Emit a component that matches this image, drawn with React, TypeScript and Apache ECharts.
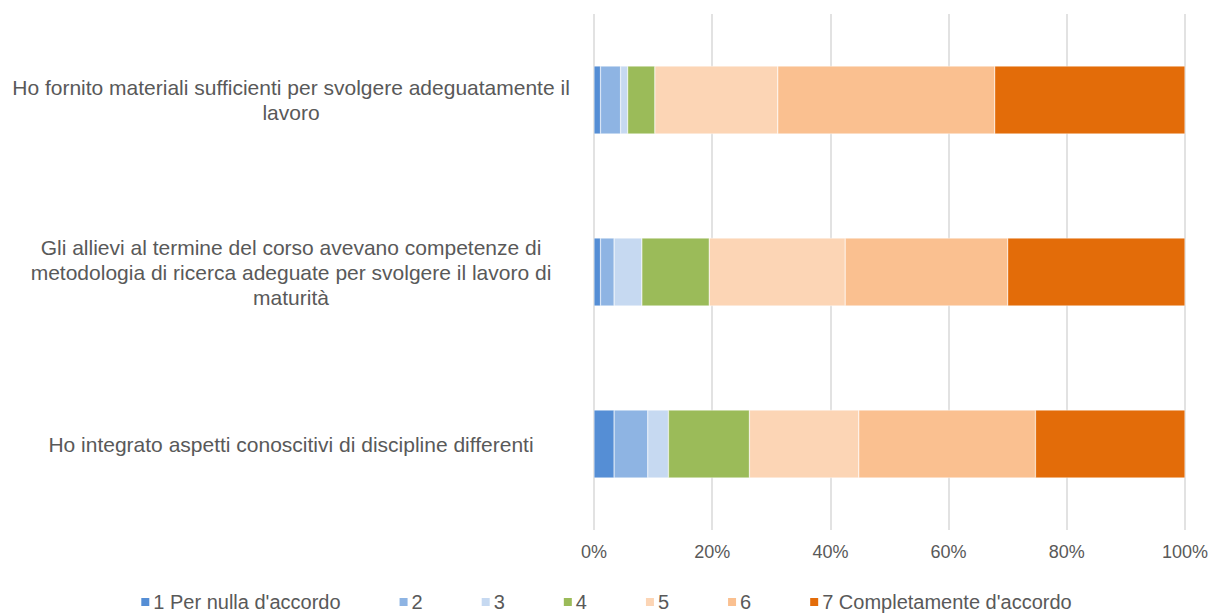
import React, { useEffect, useRef } from "react";
import * as echarts from "echarts";

const categories = [
  "Ho fornito materiali sufficienti per svolgere adeguatamente il lavoro",
  "Gli allievi al termine del corso avevano competenze di metodologia di ricerca adeguate per svolgere il lavoro di maturità",
  "Ho integrato aspetti conoscitivi di discipline differenti",
];
const wrappedLabels: Record<string, string> = {
  [categories[0]]: "Ho fornito materiali sufficienti per svolgere adeguatamente il\nlavoro",
  [categories[1]]: "Gli allievi al termine del corso avevano competenze di\nmetodologia di ricerca adeguate per svolgere il lavoro di\nmaturità",
  [categories[2]]: "Ho integrato aspetti conoscitivi di discipline differenti",
};

const seriesNames = ["1 Per nulla d'accordo", "2", "3", "4", "5", "6", "7 Completamente d'accordo"];
const s1 = [1.1, 1.1, 3.4];
const s2 = [3.4, 2.3, 5.7];
const s3 = [1.2, 4.7, 3.5];
const s4 = [4.6, 11.4, 13.7];
const s5 = [20.8, 23.0, 18.5];
const s6 = [36.7, 27.5, 29.9];
const s7 = [32.2, 30.0, 25.3];
const seriesValues = [s1, s2, s3, s4, s5, s6, s7];
const colors = ["#558ed5", "#8eb4e3", "#c6d9f1", "#9bbb59", "#fcd5b5", "#fac090", "#e36c09"];
const xTicks = [0, 20, 40, 60, 80, 100];

const FONT = "'Liberation Sans', Arial, sans-serif";

export default function App() {
  const ref = useRef<HTMLDivElement>(null);
  useEffect(() => {
    document.body.style.margin = "0";
    if (!ref.current) return;
    const chart = echarts.init(ref.current, null, { renderer: "svg" });
    chart.setOption({
      animation: false,
      color: colors,
      grid: { left: 594, right: 25, top: 14, bottom: 86, containLabel: false },
      legend: {
        top: 592,
        left: "center",
        padding: 0,
        itemWidth: 10,
        itemHeight: 10,
        itemGap: 57,
        icon: "rect",
        textStyle: { color: "#595959", fontSize: 20, lineHeight: 20, fontFamily: FONT, padding: [0, 0, 0, -2] },
        data: seriesNames,
      },
      xAxis: {
        type: "value",
        min: xTicks[0],
        max: xTicks[xTicks.length - 1],
        interval: 20,
        axisLine: { show: false },
        axisTick: { show: false },
        splitLine: { show: true, lineStyle: { color: "#d9d9d9", width: 1.5 } },
        axisLabel: {
          formatter: "{value}%",
          color: "#595959",
          fontSize: 18,
          fontFamily: FONT,
          margin: 13,
        },
      },
      yAxis: {
        type: "category",
        inverse: true,
        data: categories,
        axisLine: { show: false },
        axisTick: { show: false },
        axisLabel: {
          formatter: (v: string) => wrappedLabels[v] ?? v,
          color: "#595959",
          fontSize: 21,
          lineHeight: 25,
          fontFamily: FONT,
          align: "center",
          margin: 303,
        },
      },
      series: seriesNames.map((name, i) => ({
        name,
        type: "bar",
        stack: "total",
        barWidth: "39.5%",
        data: seriesValues[i],
        itemStyle: { color: colors[i], borderColor: "#ffffff", borderWidth: 0.4 },
      })),
    });
    return () => chart.dispose();
  }, []);
  return <div ref={ref} style={{ width: 1211, height: 616 }} />;
}
